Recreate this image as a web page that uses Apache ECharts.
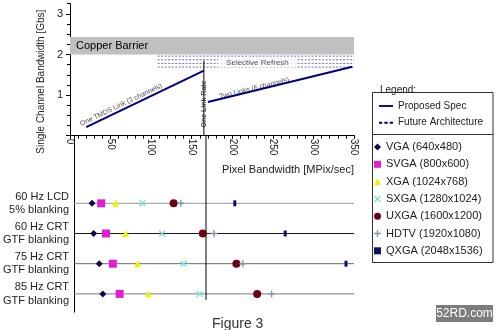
<!DOCTYPE html>
<html>
<head>
<meta charset="utf-8">
<script src="https://cdn.jsdelivr.net/npm/echarts@6/dist/echarts.min.js"></script>
<style>
  html, body { margin: 0; padding: 0; background: #fff; }
  #chart { width: 500px; height: 330px; }
</style>
</head>
<body>
<div id="chart"></div>
<script>
const FONT = "'Liberation Sans', Arial, sans-serif";

// ---- Upper panel: channel bandwidth vs pixel bandwidth ----
const oneLinkSegment = [[20, 0.21], [165, 1.60]];   // one TMDS link, 3 channels
const twoLinkSegment = [[170, 0.83], [348, 1.70]];  // two links, 6 channels
const futureLevels = [1.96, 1.87, 1.78, 1.69];      // future architecture bands
const futureRange = [108, 350];
const copperBarrier = [2.0, 2.43];
const oneLinkRate = 165;
const oneLinkRateTop = 1.85;

// ---- Lower panel: pixel bandwidth per display mode ----
const rowLabels = [
  '60 Hz LCD\n5% blanking',
  '60 Hz CRT\nGTF blanking',
  '75 Hz CRT\nGTF blanking',
  '85 Hz CRT\nGTF blanking'
];
const rowPositions = [1, 2, 3, 4];
const rowLineColors = ['#9a9a9a', '#1a1a1a', '#6a6a6a', '#7a7a7a'];

const resolutionNames = [
  'VGA (640x480)', 'SVGA (800x600)', 'XGA (1024x768)', 'SXGA (1280x1024)',
  'UXGA (1600x1200)', 'HDTV (1920x1080)', 'QXGA (2048x1536)'
];
const vga  = [22.5, 24.5, 31.5, 36];
const svga = [34, 40, 48.5, 57];
const xga  = [52, 64.5, 79.5, 93];
const sxga = [85.5, 110, 137, 157];
const uxga = [124.5, 161, 203, 229];
const hdtv = [133.5, 175, 211, 247];
const qxga = [201, 264, 340, null];

const xTickStep = 50;
const yTickValues = [0, 1, 2, 3];
const yLabelValues = [1, 2, 3];

const PLUS = 'path://M4,0H6V4H10V6H6V10H4V6H0V4H4Z';
const CROSS = 'path://M1.4,0L5,3.6L8.6,0L10,1.4L6.4,5L10,8.6L8.6,10L5,6.4L1.4,10L0,8.6L3.6,5L0,1.4Z';
const SOLID_ICON = 'path://M0,0H15V2H0Z';
const DASH_ICON = 'path://M0,0H3.5V2H0ZM5.75,0H9.25V2H5.75ZM11.5,0H15V2H11.5Z';

const markerStyles = [
  { symbol: 'diamond',  size: 7,      color: '#0a0a55' },
  { symbol: 'rect',     size: 8,      color: '#e020d0' },
  { symbol: 'triangle', size: 7,      color: '#f4f000' },
  { symbol: CROSS,      size: 7,      color: '#7fe0e0' },
  { symbol: 'circle',   size: 8,      color: '#6a0010' },
  { symbol: PLUS,       size: 7,      color: '#7c98b0' },
  { symbol: 'rect',     size: [3, 6], color: '#101060' }
];
const resolutionValues = [vga, svga, xga, sxga, uxga, hdtv, qxga];

const chart = echarts.init(document.getElementById('chart'), null, { renderer: 'canvas' });

const series = [];

// proposed spec lines (with the copper barrier band on the first)
series.push({
  name: 'Proposed Spec', type: 'line', xAxisIndex: 0, yAxisIndex: 0,
  data: oneLinkSegment, symbol: 'none', silent: true, z: 4,
  lineStyle: { color: '#000080', width: 2 }, itemStyle: { color: '#000080' },
  markArea: {
    silent: true,
    itemStyle: { color: '#c0c0c0' },
    label: { show: true, position: 'insideLeft', distance: 6, color: '#000', fontSize: 11, fontFamily: FONT },
    data: [[{ name: 'Copper Barrier', coord: [0, copperBarrier[0]] }, { coord: [350, copperBarrier[1]] }]]
  }
});
series.push({
  name: 'Proposed Spec', type: 'line', xAxisIndex: 0, yAxisIndex: 0,
  data: twoLinkSegment, symbol: 'none', silent: true, z: 4,
  lineStyle: { color: '#000080', width: 2 }, itemStyle: { color: '#000080' }
});

// future architecture dashed bands
futureLevels.forEach(v => {
  series.push({
    name: 'Future Architecture', type: 'line', xAxisIndex: 0, yAxisIndex: 0,
    data: [[futureRange[0], v], [futureRange[1], v]], symbol: 'none', silent: true, z: 2,
    lineStyle: { color: '#6e6ec4', width: 1, type: [2, 1.5] }, itemStyle: { color: '#000060' }
  });
});

// one link rate marker line, upper and lower panels
series.push({
  type: 'line', xAxisIndex: 0, yAxisIndex: 0, symbol: 'none', silent: true, z: 3,
  data: [[oneLinkRate, 0], [oneLinkRate, oneLinkRateTop]],
  lineStyle: { color: '#000', width: 1 }
});
series.push({
  type: 'line', xAxisIndex: 2, yAxisIndex: 2, symbol: 'none', silent: true, z: 3,
  data: [[oneLinkRate, -1.23], [oneLinkRate, 4.2]],
  lineStyle: { color: '#000', width: 1 }
});

// text annotations in the upper panel
const annotations = [
  { value: [63, 0.76], text: 'One TMDS Link (3 channels)', rotate: 25.5, size: 7, weight: 'normal', bg: null },
  { value: [227, 1.17], text: 'Two Links (6 channels)', rotate: 13.9, size: 7, weight: 'normal', bg: null },
  { value: [oneLinkRate, 0.78], text: 'One Link Rate', rotate: 90, size: 7, weight: 'bold', bg: null },
  { value: [231, 1.805], text: 'Selective Refresh', rotate: 0, size: 8, weight: 'normal', bg: '#fff' }
];
series.push({
  type: 'scatter', xAxisIndex: 0, yAxisIndex: 0, silent: true, z: 6,
  symbolSize: 1, itemStyle: { color: 'rgba(0,0,0,0)' },
  data: annotations.map(a => ({
    value: a.value,
    label: {
      show: true, position: 'inside', formatter: a.text, rotate: a.rotate,
      fontSize: a.size, fontWeight: a.weight, fontFamily: FONT, color: '#222',
      backgroundColor: a.bg || 'transparent', padding: a.bg ? [1, 8] : 0
    }
  }))
});

// row baselines in the lower panel
rowPositions.forEach((r, i) => {
  series.push({
    type: 'line', xAxisIndex: 2, yAxisIndex: 2, symbol: 'none', silent: true, z: 1,
    data: [[0, r], [350, r]],
    lineStyle: { color: rowLineColors[i], width: 1 }
  });
});

// display-mode markers
resolutionNames.forEach((name, k) => {
  const st = markerStyles[k];
  series.push({
    name: name, type: 'scatter', xAxisIndex: 2, yAxisIndex: 2, z: 5,
    symbol: st.symbol, symbolSize: st.size,
    itemStyle: { color: st.color, opacity: 1 },
    data: resolutionValues[k].map((v, i) => v == null ? null : [v, rowPositions[i]]).filter(d => d)
  });
});

const axisBlack = { lineStyle: { color: '#000', width: 1 } };

const option = {
  animation: false,
  backgroundColor: '#fff',
  textStyle: { fontFamily: FONT },
  title: [
    { text: 'Figure 3', left: 207, top: 312, textStyle: { fontSize: 14, fontWeight: 'normal', color: '#333', fontFamily: FONT } },
    { text: 'Legend:', left: 375, top: 80, textStyle: { fontSize: 10, fontWeight: 'normal', color: '#222', fontFamily: FONT } }
  ],
  grid: [
    { left: 70, right: 146, top: 3.7, bottom: 194.3 },
    { left: 70, right: 146, top: 136, bottom: 18 }
  ],
  xAxis: [
    {
      type: 'value', gridIndex: 0, min: 0, max: 350, interval: xTickStep,
      axisLine: axisBlack,
      axisTick: { show: true, inside: false, length: 3, lineStyle: { color: '#000' } },
      axisLabel: { rotate: -90, fontSize: 10, color: '#222', margin: 3, fontFamily: FONT },
      splitLine: { show: false },
      name: 'Pixel Bandwidth [MPix/sec]', nameLocation: 'end', nameGap: 0,
      nameTextStyle: { align: 'right', verticalAlign: 'top', padding: [29, 0, 0, 0], fontSize: 11, color: '#222', fontFamily: FONT }
    },
    {
      type: 'value', gridIndex: 0, min: 0, max: 350, interval: 10,
      axisLine: axisBlack,
      axisTick: { show: true, inside: true, length: 3, lineStyle: { color: '#000' } },
      axisLabel: { show: false }, splitLine: { show: false }
    },
    { type: 'value', gridIndex: 1, min: 0, max: 350, show: false, splitLine: { show: false } }
  ],
  yAxis: [
    {
      type: 'value', gridIndex: 0, min: 0, max: 3.25, interval: 0.25,
      axisLine: axisBlack,
      axisTick: { show: true, inside: false, length: 4, customValues: yTickValues, lineStyle: { color: '#000' } },
      axisLabel: { customValues: yLabelValues, fontSize: 11, color: '#222', margin: 7, fontFamily: FONT },
      splitLine: { show: false },
      name: 'Single Channel Bandwidth [Gbs]', nameLocation: 'middle', nameRotate: 90, nameGap: 16,
      nameTextStyle: { fontSize: 10, color: '#222', fontFamily: FONT, padding: [0, 24, 0, 0] }
    },
    {
      type: 'value', gridIndex: 0, min: 0, max: 3.25, interval: 0.25,
      axisLine: axisBlack,
      axisTick: { show: true, inside: true, length: 3, lineStyle: { color: '#000' } },
      axisLabel: { show: false }, splitLine: { show: false }
    },
    {
      type: 'value', gridIndex: 1, min: -1.23, max: 4.6, inverse: true,
      axisLine: axisBlack,
      axisTick: { show: false },
      axisLabel: {
        customValues: rowPositions,
        formatter: v => rowLabels[Math.round(v) - 1] || '',
        fontSize: 11, lineHeight: 13.5, color: '#222', margin: 5, align: 'right', fontFamily: FONT
      },
      splitLine: { show: false }
    }
  ],
  legend: [
    {
      data: [
        { name: 'Proposed Spec', icon: SOLID_ICON, itemStyle: { color: '#000080' } },
        { name: 'Future Architecture', icon: DASH_ICON, itemStyle: { color: '#000060' } }
      ],
      orient: 'vertical', left: 379, top: 100,
      itemWidth: 14, itemHeight: 2, itemGap: 4.7, selectedMode: false, padding: 0,
      textStyle: { fontSize: 10, lineHeight: 12, color: '#222', fontFamily: FONT }
    },
    {
      data: resolutionNames, orient: 'vertical', left: 374, top: 140.5,
      itemWidth: 7, itemHeight: 7, itemGap: 4.3, selectedMode: false, padding: 0,
      textStyle: { fontSize: 11, lineHeight: 13, color: '#222', fontFamily: FONT }
    }
  ],
  graphic: [
    { type: 'rect', shape: { x: 372.5, y: 92.5, width: 120.5, height: 170 }, style: { fill: 'none', stroke: '#333', lineWidth: 1 }, silent: true },
    { type: 'line', shape: { x1: 372.5, y1: 134.5, x2: 493, y2: 134.5 }, style: { stroke: '#333', lineWidth: 1 }, silent: true },
    { type: 'rect', shape: { x: 436, y: 305, width: 57, height: 17 }, style: { fill: '#7c7c7c' }, silent: true },
    { type: 'text', x: 464.5, y: 313.5, style: { text: '52RD.com', fill: '#fff', font: "12px 'Liberation Sans', Arial", align: 'center', verticalAlign: 'middle' }, silent: true }
  ],
  series: series
};

chart.setOption(option);
</script>
</body>
</html>
